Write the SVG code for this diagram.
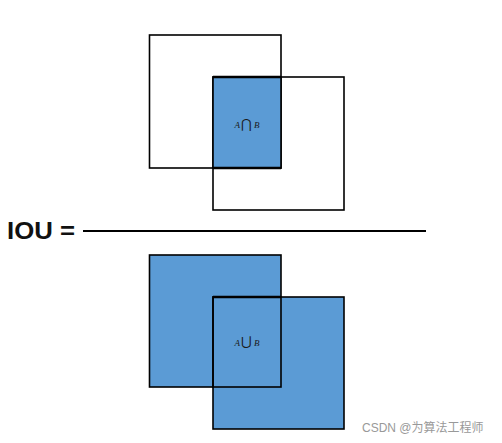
<svg xmlns="http://www.w3.org/2000/svg" width="502" height="443" viewBox="0 0 502 443">
<style>
.o{fill:none;stroke:#000;stroke-width:1.6}
.f{fill:#5b9bd5;stroke:#000;stroke-width:1.6}
.lbl{font-family:"Liberation Serif",serif;font-style:italic;font-size:9px;fill:#1a1a1a}
.sym{font-style:normal;font-size:13px}
</style>
<rect width="502" height="443" fill="#fff"/>
<g id="intersection">
<rect class="o" x="149.5" y="35" width="131.5" height="133"/>
<rect class="o" x="213" y="77" width="131" height="133"/>
<rect x="213" y="77" width="68" height="91" fill="#5b9bd5" stroke="#000" stroke-width="1.6"/>
<line x1="213" y1="77" x2="281" y2="77" stroke="#000" stroke-width="2.6"/>
<line x1="213" y1="168" x2="281" y2="168" stroke="#000" stroke-width="2.6"/>
<text class="lbl" x="247" y="128" text-anchor="middle">A<tspan class="sym" dx="1">⋂</tspan><tspan dx="2">B</tspan></text>
</g>
<g id="equation">
<text x="7" y="239" font-family="Liberation Sans,Arial,sans-serif" font-weight="bold" font-size="24" fill="#111" textLength="68" lengthAdjust="spacingAndGlyphs">IOU =</text>
<line x1="83" y1="231" x2="426" y2="231" stroke="#000" stroke-width="2"/>
</g>
<g id="union">
<rect class="f" x="149.5" y="255" width="131.5" height="132"/>
<rect class="f" x="213" y="297" width="131" height="132"/>
<line x1="213" y1="297" x2="281" y2="297" stroke="#000" stroke-width="2.6"/>
<rect class="o" x="213" y="297" width="68" height="90"/>
<text class="lbl" x="247" y="346" text-anchor="middle">A<tspan class="sym" dx="1">⋃</tspan><tspan dx="2">B</tspan></text>
</g>
<text x="362" y="432" font-family="Liberation Sans,'Noto Sans CJK SC',sans-serif" font-size="12" fill="#999">CSDN @为算法工程师</text>
</svg>
